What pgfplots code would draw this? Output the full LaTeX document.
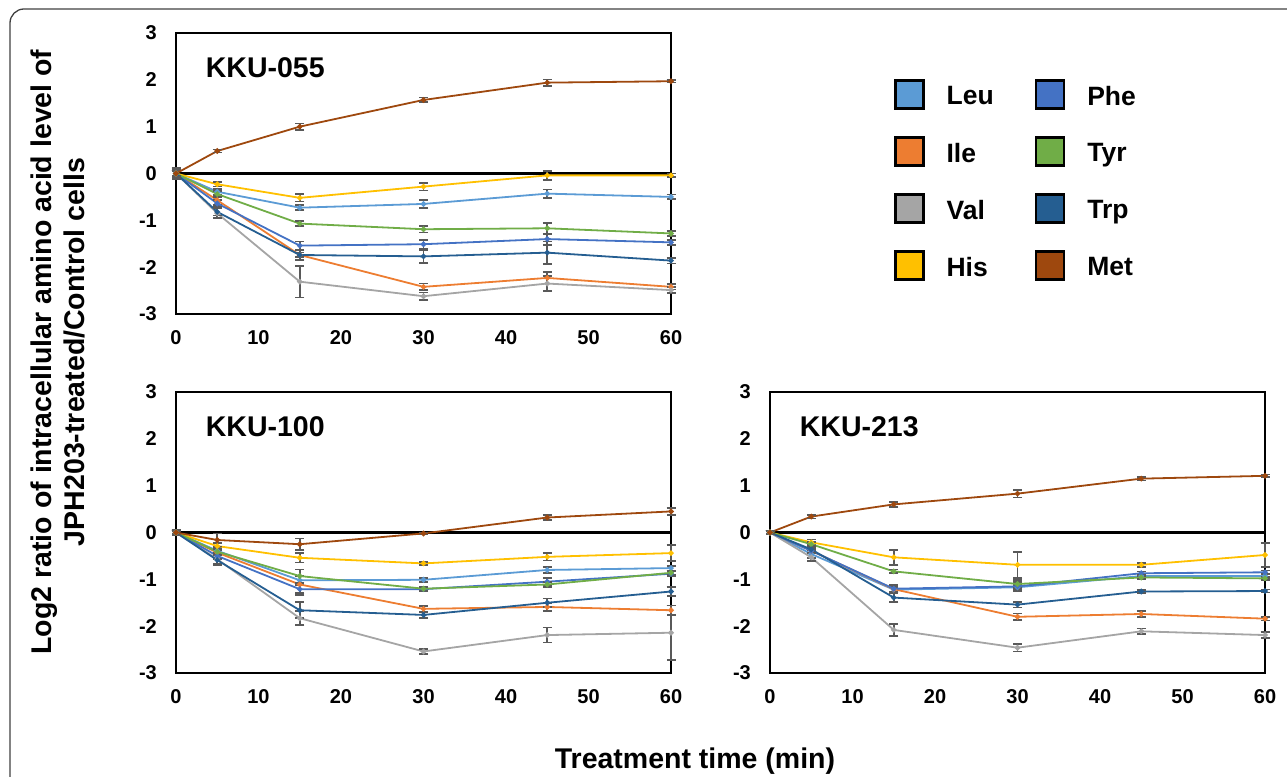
\documentclass[border=0pt]{standalone}
\usepackage{fontspec}
\setmainfont{Liberation Sans}
\usepackage{pgfplots}
\usepackage{pgfplotstable}
\pgfplotsset{compat=1.18}

\definecolor{cLeu}{HTML}{5B9BD5}
\definecolor{cIle}{HTML}{ED7D31}
\definecolor{cVal}{HTML}{A5A5A5}
\definecolor{cHis}{HTML}{FFC000}
\definecolor{cPhe}{HTML}{4472C4}
\definecolor{cTyr}{HTML}{70AD47}
\definecolor{cTrp}{HTML}{255E91}
\definecolor{cMet}{HTML}{9E480E}
\definecolor{errgray}{HTML}{595959}

\newcommand\ticksf{\fontsize{20}{24}\selectfont\bfseries}
\newcommand\titlef{\fontsize{28.5}{34}\selectfont\bfseries}
\newcommand\legf{\fontsize{26.5}{32}\selectfont\bfseries}
\newcommand\labf{\fontsize{28.5}{33}\selectfont\bfseries}

% KKU-055
\pgfplotstableread{
t Leu eLeu Ile eIle Val eVal His eHis Phe ePhe Tyr eTyr Trp eTrp Met eMet
0 0 0.05 0 0.05 0 0.12 0 0.05 0 0.05 0 0.05 0 0.08 0 0.10
5 -0.39 0.06 -0.57 0.10 -0.85 0.10 -0.23 0.05 -0.64 0.07 -0.44 0.06 -0.82 0.08 0.48 0.03
15 -0.73 0.05 -1.74 0.05 -2.31 0.34 -0.52 0.08 -1.54 0.09 -1.07 0.05 -1.74 0.10 1.00 0.07
30 -0.65 0.08 -2.42 0.07 -2.62 0.08 -0.28 0.08 -1.51 0.09 -1.19 0.07 -1.77 0.14 1.57 0.05
45 -0.43 0.09 -2.23 0.12 -2.35 0.16 -0.04 0.10 -1.40 0.12 -1.17 0.12 -1.69 0.24 1.94 0.07
60 -0.50 0.05 -2.42 0.06 -2.49 0.06 -0.04 0.04 -1.47 0.05 -1.28 0.05 -1.86 0.06 1.97 0.03
}\dataA

% KKU-100
\pgfplotstableread{
t Leu eLeu Ile eIle Val eVal His eHis Phe ePhe Tyr eTyr Trp eTrp Met eMet
0 0 0.03 0 0.03 0 0.05 0 0.03 0 0.03 0 0.03 0 0.03 0 0.05
5 -0.39 0.06 -0.43 0.06 -0.57 0.10 -0.29 0.06 -0.50 0.06 -0.41 0.06 -0.59 0.10 -0.16 0.14
15 -1.02 0.10 -1.11 0.18 -1.83 0.15 -0.54 0.10 -1.21 0.12 -0.93 0.14 -1.66 0.17 -0.25 0.12
30 -1.01 0.04 -1.63 0.06 -2.54 0.05 -0.66 0.03 -1.21 0.04 -1.20 0.04 -1.76 0.06 -0.02 0.02
45 -0.80 0.07 -1.59 0.08 -2.19 0.16 -0.52 0.08 -1.05 0.08 -1.11 0.05 -1.50 0.09 0.32 0.05
60 -0.76 0.05 -1.66 0.10 -2.14 0.58 -0.44 0.17 -0.88 0.06 -0.86 0.05 -1.26 0.10 0.45 0.08
}\dataB

% KKU-213
\pgfplotstableread{
t Leu eLeu Ile eIle Val eVal His eHis Phe ePhe Tyr eTyr Trp eTrp Met eMet
0 0 0.03 0 0.03 0 0.03 0 0.03 0 0.03 0 0.03 0 0.03 0 0.03
5 -0.46 0.08 -0.39 0.06 -0.53 0.08 -0.21 0.06 -0.39 0.06 -0.25 0.05 -0.36 0.07 0.34 0.04
15 -1.22 0.06 -1.21 0.05 -2.08 0.13 -0.53 0.16 -1.20 0.08 -0.83 0.04 -1.39 0.10 0.60 0.05
30 -1.17 0.05 -1.80 0.07 -2.46 0.08 -0.69 0.28 -1.15 0.10 -1.10 0.08 -1.54 0.06 0.83 0.08
45 -0.93 0.03 -1.74 0.07 -2.11 0.06 -0.69 0.04 -0.87 0.04 -0.96 0.03 -1.26 0.03 1.15 0.04
60 -0.93 0.04 -1.84 0.04 -2.19 0.07 -0.48 0.25 -0.85 0.04 -0.98 0.04 -1.25 0.03 1.21 0.03
}\dataC

\pgfplotsset{
  panel/.style={
    scale only axis, width=495pt, height=281pt,
    xmin=0, xmax=60, ymin=-3, ymax=3,
    xtick={0,10,...,60}, ytick={-3,-2,...,3},
    major tick length=0pt,
    axis line style={line width=2.9pt},
    tick label style={font=\ticksf},
    /pgf/number format/assume math mode=true,
    yticklabel style={anchor=east, inner sep=0pt, xshift=-19pt},
    xticklabel style={anchor=north, inner sep=0pt, yshift=-16pt},
    clip=false,
  },
  ser/.style={color=#1, line width=1.8pt, mark=*, mark size=1.8pt,
    mark options={solid, fill=#1},
    error bars/y dir=both, error bars/y explicit,
    error bars/error bar style={line width=1.7pt, color=errgray},
    error bars/error mark options={rotate=90, mark size=4.5pt, line width=1.7pt, color=errgray}},
}

\newcommand\plotall[1]{%
  \draw[line width=2.9pt] (axis cs:0,0) -- (axis cs:60,0);
  \addplot[forget plot, ser=cLeu] table[x=t, y=Leu, y error=eLeu]{#1};
  \addplot[forget plot, ser=cIle] table[x=t, y=Ile, y error=eIle]{#1};
  \addplot[forget plot, ser=cVal] table[x=t, y=Val, y error=eVal]{#1};
  \addplot[forget plot, ser=cHis] table[x=t, y=His, y error=eHis]{#1};
  \addplot[forget plot, ser=cPhe] table[x=t, y=Phe, y error=ePhe]{#1};
  \addplot[forget plot, ser=cTyr] table[x=t, y=Tyr, y error=eTyr]{#1};
  \addplot[forget plot, ser=cTrp] table[x=t, y=Trp, y error=eTrp]{#1};
  \addplot[forget plot, ser=cMet] table[x=t, y=Met, y error=eMet]{#1};
}

\newcommand\legbox[1]{\addlegendimage{legend image code/.code={\draw[line width=2.6pt, draw=black, fill=#1] (0pt,-12.2pt) rectangle (28pt,15.8pt);}}}

\begin{document}
\begin{tikzpicture}[x=1pt,y=1pt]
\useasboundingbox (0,0) rectangle (1287,776);
\draw[line width=1.3pt, color=black!75, rounded corners=14pt] (1300,767) -- (10,767) -- (10,-20);

% Panel 1
\begin{axis}[panel, at={(176pt,462pt)}, anchor=south west,
  legend columns=2,
  legend style={draw=none, fill=none, at={(1.4505,0.8347)}, anchor=north west,
    inner sep=0pt, outer sep=0pt, font=\legf,
    nodes={inner sep=0pt},
    row sep=26.3pt,
    /tikz/every odd column/.append style={column sep=22pt},
    /tikz/every even column/.append style={column sep=41pt}},
  legend cell align=left]
\legbox{cLeu}\addlegendentry{Leu}
\legbox{cPhe}\addlegendentry{Phe}
\legbox{cIle}\addlegendentry{Ile}
\legbox{cTyr}\addlegendentry{Tyr}
\legbox{cVal}\addlegendentry{Val}
\legbox{cTrp}\addlegendentry{Trp}
\legbox{cHis}\addlegendentry{His}
\legbox{cMet}\addlegendentry{Met}
\plotall{\dataA}
\node[anchor=base west, font=\titlef, inner sep=0pt] at (axis cs:3.6,2.04) {KKU-055};
\end{axis}

% Panel 2
\begin{axis}[panel, at={(176pt,103pt)}, anchor=south west]
\plotall{\dataB}
\node[anchor=base west, font=\titlef, inner sep=0pt] at (axis cs:3.6,2.04) {KKU-100};
\end{axis}

% Panel 3
\begin{axis}[panel, at={(770pt,103pt)}, anchor=south west]
\plotall{\dataC}
\node[anchor=base west, font=\titlef, inner sep=0pt] at (axis cs:3.6,2.04) {KKU-213};
\end{axis}

\node[anchor=north, rotate=90, inner sep=0pt, align=center, font=\labf] at (31,424)
  {Log2 ratio of intracellular amino acid level of\\JPH203-treated/Control cells};
\node[anchor=base, inner sep=0pt, font=\labf] at (695,7.5) {Treatment time (min)};
\end{tikzpicture}
\end{document}
